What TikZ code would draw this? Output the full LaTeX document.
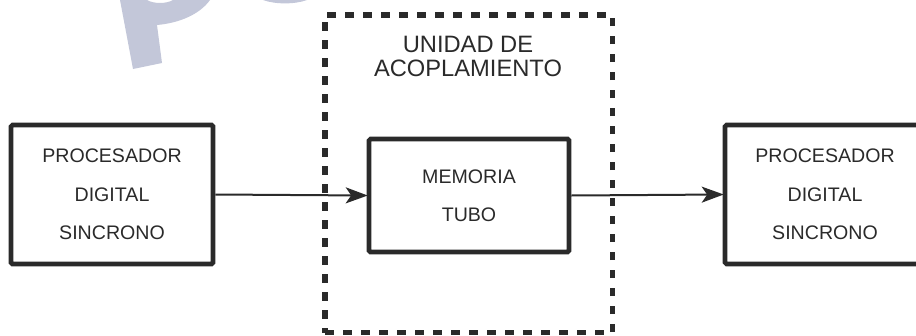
\documentclass[tikz,border=0pt]{standalone}
\usepackage{fontspec}
\setmainfont{Liberation Sans}
\usetikzlibrary{arrows.meta}
\definecolor{ink}{HTML}{2A2A2A}
\definecolor{wmgrey}{HTML}{C3C7D9}
\tikzset{
  procbox/.style={draw=ink,line width=4.6pt,rounded corners=1.5pt,minimum width=#1,inner sep=0pt,anchor=center},
  boxtext/.style={text=ink,font=\fontsize{19.6}{38.4}\selectfont,align=center,inner sep=0pt,anchor=center},
  unitbox/.style={draw=ink,line width=5.2pt,dash pattern=on 8.5pt off 9.5pt,minimum width=287.5pt,minimum height=317.7pt,inner sep=0pt},
  flow/.style={draw=ink,line width=2pt,-{Stealth[length=22pt,width=16pt,inset=5.5pt]},shorten >=-1pt},
}
\begin{document}
\begin{tikzpicture}[x=1pt,y=-1pt]
\useasboundingbox (0,0) rectangle (916,335);
% watermark remnants
\fill[wmgrey] (120,0) -- (133,69) -- (162,63) -- (157,25) .. controls (180,23) and (200,14) .. (210,0) -- (173,0) .. controls (166,4) and (154,4) .. (147,0) -- cycle;
\fill[wmgrey] (263,0) .. controls (275,4.5) and (295,4.5) .. (307,0) -- cycle;
% dashed unit
\node[unitbox] (unit) at (468.8,173.8) {};
\node[text=ink,font=\fontsize{23.7}{23.4}\selectfont,align=center,inner sep=0pt,anchor=base] (title) at (468,76) {UNIDAD DE\\ACOPLAMIENTO};
% boxes
\node[procbox=202pt,minimum height=139pt] (left) at (112,194.5) {};
\node[procbox=200pt,minimum height=113pt] (mid) at (469,195.5) {};
\node[procbox=200pt,minimum height=139pt] (right) at (825,194.5) {};
\node[boxtext] (lefttext) at (left.center) {PROCESADOR\\DIGITAL\\SINCRONO};
\node[boxtext] (midtext) at (mid.center) {MEMORIA\\TUBO};
\node[boxtext] (righttext) at (right.center) {PROCESADOR\\DIGITAL\\SINCRONO};
% connectors
\draw[flow] (left.east) -- (mid.west);
\draw[flow] (mid.east) -- (right.west);
\end{tikzpicture}
\end{document}
